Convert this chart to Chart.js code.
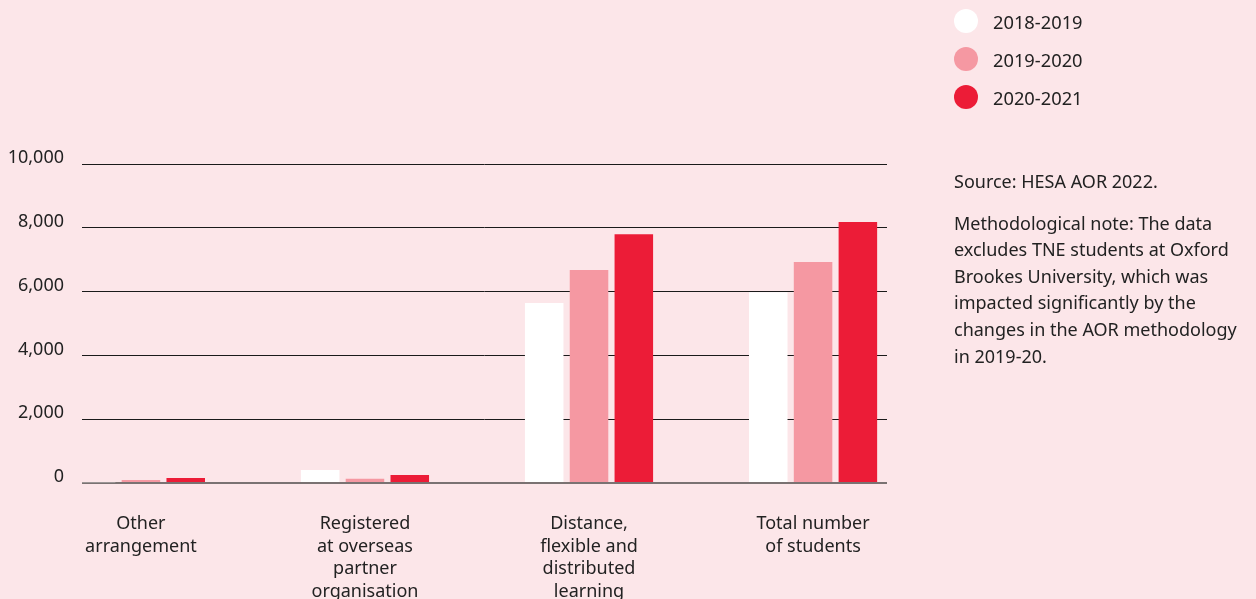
<!DOCTYPE html>
<html lang="en">
  <head>
    <meta charset="UTF-8">
    <title>chart</title>
    <style>
      html, body { margin: 0; padding: 0; background: #fce6e9; }
      body { width: 1256px; height: 599px; position: relative; overflow: hidden; font-family: "Noto Sans", sans-serif; color: #222; }
      #wrap { position: absolute; left: 0; top: 0; width: 1256px; height: 599px; }
      #legend { position: absolute; left: 954px; top: 8px; }
      .item { height: 38px; display: flex; align-items: center; font-size: 18.3px; }
      .dot { width: 24px; height: 24px; border-radius: 50%; margin-right: 15px; margin-top: -12px; }
      .item span { margin-top: -12px; }
      #note { position: absolute; left: 954px; top: 168px; width: 300px; font-size: 18px; line-height: 26.6px; }
      #note p { margin: 0 0 15px 0; }
    </style>
  </head>
  <body>
    <div id="wrap"><canvas id="myChart"></canvas></div>
    <div id="legend"></div>
    <div id="note">
      <p>Source: HESA AOR 2022.</p>
      <p>Methodological note: The data excludes TNE students at Oxford Brookes University, which was impacted significantly by the changes in the AOR methodology in 2019-20.</p>
    </div>
    <script src="https://cdn.jsdelivr.net/npm/chart.js"></script>
    <script>

const categories = [
  ['Other', 'arrangement'],
  ['Registered', 'at overseas', 'partner', 'organisation'],
  ['Distance,', 'flexible and', 'distributed', 'learning'],
  ['Total number', 'of students']
];
const seriesNames = ['2018-2019', '2019-2020', '2020-2021'];
const seriesColors = ['#ffffff', '#f598a2', '#ec1c37'];
const values2018 = [20, 410, 5640, 5980];
const values2019 = [95, 130, 6680, 6930];
const values2020 = [160, 250, 7800, 8180];
const yTicks = [0, 2000, 4000, 6000, 8000, 10000];

const allValues = [values2018, values2019, values2020];

// html legend
const legend = document.getElementById('legend');
seriesNames.forEach(function(name, i) {
  const row = document.createElement('div');
  row.className = 'item';
  row.innerHTML = '<div class="dot" style="background:' + seriesColors[i] + '"></div><span>' + name + '</span>';
  legend.appendChild(row);
});

const data = {
  datasets: seriesNames.map(function(name, i) {
    return {
      label: name,
      data: allValues[i].map(function(v, k) { return { x: k, y: v }; }),
      backgroundColor: seriesColors[i],
      borderWidth: 0,
      categoryPercentage: 0.6,
      barPercentage: 0.86
    };
  })
};

const config = {
  type: 'bar',
  data,
  options: {
    responsive: false,
    animation: false,
    devicePixelRatio: 1,
    layout: { padding: { top: 164, right: 369, left: 0, bottom: 0 } },
    plugins: { legend: { display: false }, tooltip: { enabled: false } },
    scales: {
      x: {
        type: 'linear',
        offset: false,
        min: -0.263,
        max: 3.33,
        grid: { display: false },
        border: { display: false },
        afterBuildTicks: function(scale) {
          scale.ticks = categories.map(function(c, i) { return { value: i }; });
        },
        afterFit: function(scale) { scale.height = 116; },
        ticks: {
          autoSkip: false,
          maxRotation: 0,
          padding: 22,
          color: '#222',
          font: { family: 'Noto Sans', size: 18, lineHeight: 1.25 },
          callback: function(v) { return categories[v]; }
        }
      },
      y: {
        min: 0,
        max: 10000,
        afterBuildTicks: function(scale) {
          scale.ticks = yTicks.map(function(v) { return { value: v }; });
        },
        afterFit: function(scale) { scale.width = 82; },
        border: { display: false },
        grid: {
          drawTicks: false,
          color: function(ctx) { return ctx.tick && ctx.tick.value === 0 ? '#7a7272' : '#1a1a1a'; },
          lineWidth: function(ctx) { return ctx.tick && ctx.tick.value === 0 ? 2 : 1; }
        },
        ticks: {
          padding: 18,
          labelOffset: -6,
          color: '#222',
          font: { family: 'Noto Sans', size: 18 },
          callback: function(v) { return v.toLocaleString('en-GB'); }
        }
      }
    }
  }
};

const canvas = document.getElementById('myChart');
canvas.width = 1256;
canvas.height = 599;
const myChart = new Chart(canvas, config);

</script>
  </body>
</html>
